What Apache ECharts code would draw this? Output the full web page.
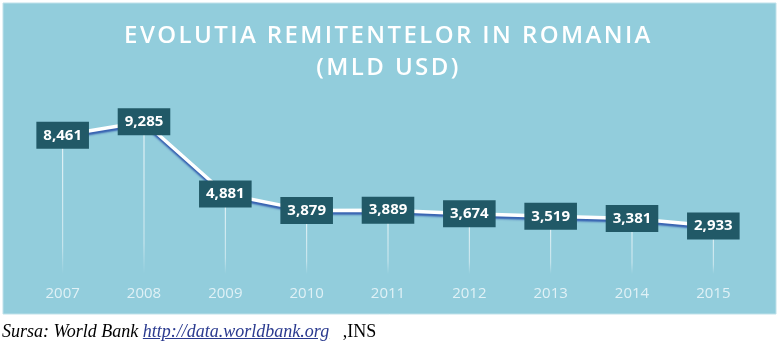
<!DOCTYPE html>
<html>
<head>
<meta charset="utf-8">
<script src="https://cdn.jsdelivr.net/npm/echarts@6/dist/echarts.min.js"></script>
<style>
html,body{margin:0;padding:0;background:#fff;}
#chart{width:783px;height:364px;position:absolute;left:0;top:0;}
#title{position:absolute;left:-3px;top:18px;width:783px;text-align:center;color:#fff;font-family:"Open Sans",sans-serif;font-weight:600;font-size:24px;line-height:32px;letter-spacing:2.4px;white-space:pre;}
#cap{position:absolute;left:2px;top:321px;font-family:"Liberation Serif","DejaVu Serif",serif;font-size:18px;color:#000;white-space:pre;}
#cap i{font-style:italic;}
#cap a{color:#2a3a8f;text-decoration:underline;font-style:italic;}
</style>
</head>
<body>
<div id="chart"></div>
<div id="title"></div>
<div id="cap"><i>Sursa: World Bank </i><a>http://data.worldbank.org</a>   ,INS</div>
<script>
var years = ['2007','2008','2009','2010','2011','2012','2013','2014','2015'];
var remittances = [8.461, 9.285, 4.881, 3.879, 3.889, 3.674, 3.519, 3.381, 2.933];
var titleLines = ['EVOLUTIA REMITENTELOR IN ROMANIA', '(MLD USD)'];

document.getElementById('title').textContent = titleLines.join('\n');

function fmt(v){ return v.toFixed(3).replace('.', ','); }

var chart = echarts.init(document.getElementById('chart'), null, {renderer:'canvas'});
chart.setOption({
  backgroundColor: '#ffffff',
  animation: false,
  graphic: [{
    type: 'rect',
    z: -10,
    shape: {x: 3, y: 3, width: 773, height: 311},
    style: {fill: '#92cddc', stroke: '#bfe1ea', lineWidth: 1}
  }],
  grid: {left: 22, right: 29, top: 110, bottom: 90},
  xAxis: {
    type: 'category',
    data: years,
    boundaryGap: true,
    axisLine: {show: false},
    axisTick: {show: false},
    splitLine: {show: false},
    axisLabel: {
      color: '#e0f1f6',
      fontFamily: 'Open Sans',
      fontSize: 15,
      margin: 12
    }
  },
  yAxis: {
    type: 'value',
    min: 0,
    max: 10,
    show: false
  },
  series: [{
    type: 'bar',
    data: remittances,
    barWidth: 1,
    z: 1,
    silent: true,
    itemStyle: {
      color: {
        type: 'linear', x: 0, y: 0, x2: 0, y2: 1,
        colorStops: [
          {offset: 0, color: 'rgba(255,255,255,0.9)'},
          {offset: 0.8, color: 'rgba(255,255,255,0.55)'},
          {offset: 1, color: 'rgba(255,255,255,0)'}
        ]
      }
    }
  }, {
    type: 'line',
    data: remittances,
    z: 5,
    symbol: 'circle',
    symbolSize: 1,
    showSymbol: true,
    itemStyle: {color: '#ffffff'},
    smooth: false,
    lineStyle: {
      color: '#ffffff',
      width: 3.5,
      shadowColor: 'rgba(40,80,170,0.9)',
      shadowBlur: 2,
      shadowOffsetY: 2.5
    },
    label: {
      show: true,
      position: 'inside',
      formatter: function(p){ return fmt(p.value); },
      color: '#ffffff',
      fontFamily: 'Open Sans',
      fontWeight: 'bold',
      fontSize: 15,
      backgroundColor: '#215967',
      padding: [5, 7, 5, 7],
      lineHeight: 17
    },
    labelLayout: {hideOverlap: false}
  }]
});
</script>
</body>
</html>
